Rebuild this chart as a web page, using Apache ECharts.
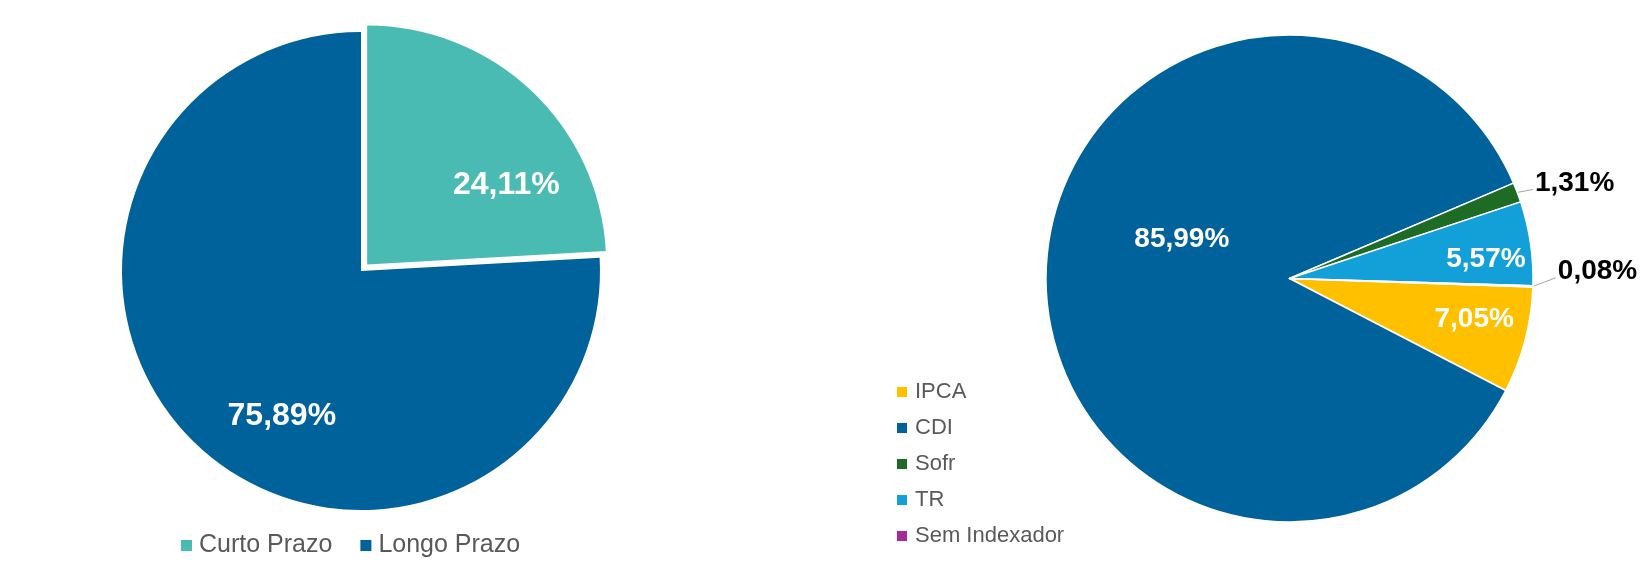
<!DOCTYPE html>
<html>
<head>
<meta charset="utf-8">
<script src="https://cdn.jsdelivr.net/npm/echarts@6/dist/echarts.min.js"></script>
<style>
html,body{margin:0;padding:0;background:#fff;}
#chart{width:1649px;height:588px;}
</style>
</head>
<body>
<div id="chart"></div>
<script>
// ---- data ----
const prazoCategories = ['Curto Prazo', 'Longo Prazo'];
const prazoValues = [24.11, 75.89];

const indexCategories = ['IPCA', 'CDI', 'Sofr', 'TR', 'Sem Indexador'];
const indexValues = [7.05, 85.99, 1.31, 5.57, 0.08];

// ---- styles ----
const prazoColors = ['#49BBB2', '#00629A'];
const indexColors = ['#FFC000', '#00629A', '#1D6B25', '#139FD7', '#A22B96'];
const outsideLabels = ['Sofr', 'Sem Indexador'];
const FONT = '"Liberation Sans", Arial, sans-serif';

function fmt(v) { return v.toFixed(2).replace('.', ',') + '%'; }

const prazoShift = [{dx: 55, dy: 10}, {dx: 5, dy: 56}];
const indexShift = [{dx: 64, dy: 9}, {dx: 17, dy: -35}, {dx: -7, dy: -7}, {dx: 73, dy: -1}, {dx: 0, dy: -15}];

const prazoData = prazoCategories.map((n, i) => ({
  name: n, value: prazoValues[i],
  selected: i === 0,
  itemStyle: {color: prazoColors[i]},
  select: {itemStyle: {color: prazoColors[i], borderWidth: 0}}
}));

const indexData = indexCategories.map((n, i) => {
  const out = outsideLabels.includes(n);
  return {
    name: n, value: indexValues[i],
    itemStyle: {color: indexColors[i]},
    label: out ? {position: 'outside', color: '#000'} : {position: 'inside', color: '#fff'},
    labelLine: {show: out}
  };
});

function indexLabelLayout(p) {
  const s = indexShift[p.dataIndex];
  const res = {dx: s.dx, dy: s.dy};
  if (p.labelLinePoints && p.labelLinePoints.length) {
    const start = p.labelLinePoints[0];
    const r = p.labelRect;
    const endX = r.x + s.dx - 2;
    const endY = r.y + r.height * 0.72 + s.dy;
    res.labelLinePoints = [start, [(start[0] + endX) / 2, (start[1] + endY) / 2], [endX, endY]];
  }
  return res;
}

const chart = echarts.init(document.getElementById('chart'), null, {renderer: 'canvas'});
chart.setOption({
  animation: false,
  backgroundColor: '#fff',
  legend: [
    {
      data: prazoCategories,
      orient: 'horizontal',
      left: 176, top: 528,
      itemWidth: 11, itemHeight: 11, itemGap: 28,
      icon: 'rect',
      selectedMode: false,
      textStyle: {fontFamily: FONT, fontSize: 25, color: '#595959', padding: [0, 0, 0, 2]}
    },
    {
      data: indexCategories,
      orient: 'vertical',
      left: 890, top: 376,
      itemWidth: 12, itemHeight: 12, itemGap: 14,
      icon: 'rect',
      selectedMode: false,
      textStyle: {fontFamily: FONT, fontSize: 22, color: '#595959', padding: [0, 0, 0, 2]}
    }
  ],
  series: [
    {
      type: 'pie',
      center: [361, 271],
      radius: [0, 239],
      startAngle: 90,
      clockwise: true,
      selectedMode: 'single',
      selectedOffset: 9,
      silent: true,
      data: prazoData,
      itemStyle: {borderWidth: 0},
      label: {
        show: true, position: 'inside',
        formatter: p => fmt(p.value),
        fontFamily: FONT, fontSize: 32, fontWeight: 'bold', color: '#fff'
      },
      labelLine: {show: false},
      labelLayout: p => prazoShift[p.dataIndex],
      emphasis: {disabled: true}
    },
    {
      type: 'pie',
      center: [1289.5, 278.5],
      radius: [0, 243.5],
      startAngle: -2,
      clockwise: true,
      silent: true,
      avoidLabelOverlap: false,
      data: indexData,
      itemStyle: {borderColor: '#fff', borderWidth: 1.5},
      label: {
        show: true,
        formatter: p => fmt(p.value),
        fontFamily: FONT, fontSize: 28, fontWeight: 'bold'
      },
      labelLine: {length: 6, length2: 14, lineStyle: {color: '#A6A6A6', width: 1}},
      labelLayout: indexLabelLayout,
      emphasis: {disabled: true}
    }
  ]
});
</script>
</body>
</html>
